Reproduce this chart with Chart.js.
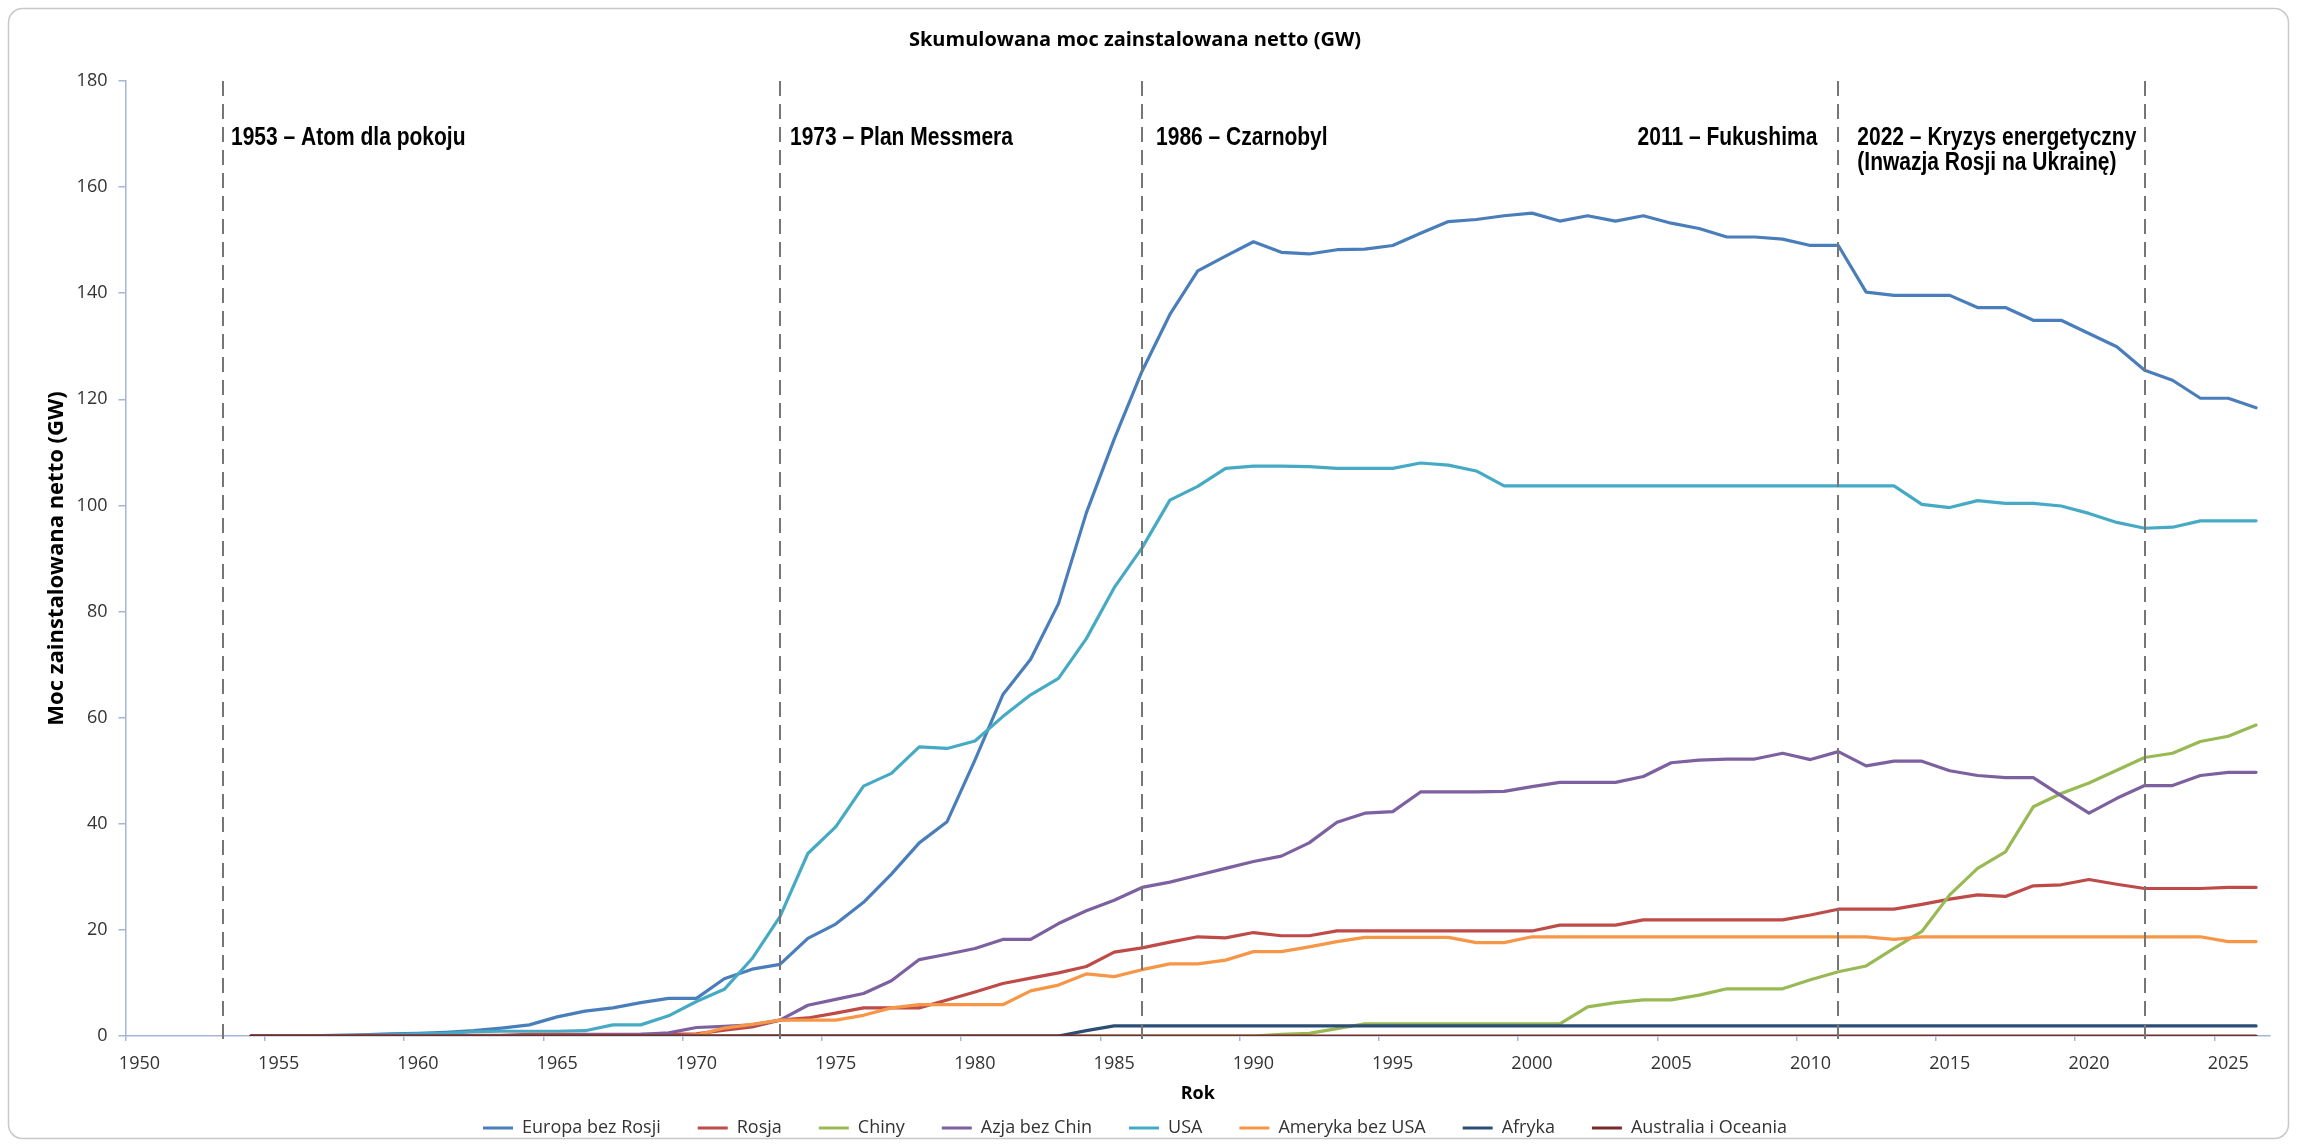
<!DOCTYPE html>
<html>
<head>
<meta charset="utf-8">
<script src="https://cdn.jsdelivr.net/npm/chart.js@4.4.1/dist/chart.umd.min.js"></script>
<style>
html,body{margin:0;padding:0;background:#fff;overflow:hidden}
canvas{display:block}
</style>
</head>
<body>
<canvas id="c" width="2297" height="1147"></canvas>
<script>
// ---- categories ----
const years = [1950,1951,1952,1953,1954,1955,1956,1957,1958,1959,
1960,1961,1962,1963,1964,1965,1966,1967,1968,1969,
1970,1971,1972,1973,1974,1975,1976,1977,1978,1979,
1980,1981,1982,1983,1984,1985,1986,1987,1988,1989,
1990,1991,1992,1993,1994,1995,1996,1997,1998,1999,
2000,2001,2002,2003,2004,2005,2006,2007,2008,2009,
2010,2011,2012,2013,2014,2015,2016,2017,2018,2019,
2020,2021,2022,2023,2024,2025,2026];

// ---- series (GW), 1950..2026 ----
const europe = [null,null,null,null,
0,0,0.05,0.1,0.2,0.4,0.5,0.7,1.0,1.5,
2.1,3.6,4.7,5.3,6.3,7.1,7.1,10.8,12.6,13.5,
18.4,21.1,25.2,30.5,36.4,40.4,52.0,64.3,71.0,81.5,
98.6,112.5,125.3,136.0,144.2,147.0,149.7,147.7,147.4,148.2,
148.3,149.0,151.3,153.5,153.9,154.6,155.1,153.6,154.6,153.6,
154.6,153.2,152.2,150.6,150.6,150.2,149.0,149.0,140.2,139.6,
139.6,139.6,137.3,137.3,134.9,134.9,132.4,129.9,125.5,123.6,
120.2,120.2,118.4];

const russia = [null,null,null,null,
0,0,0,0,0.1,0.1,0.1,0.1,0.1,0.1,
0.3,0.3,0.3,0.3,0.3,0.3,0.4,1.1,1.7,3.0,
3.4,4.3,5.3,5.3,5.3,6.8,8.3,9.9,10.9,11.9,
13.1,15.8,16.6,17.7,18.7,18.5,19.5,18.9,18.9,19.8,
19.8,19.8,19.8,19.8,19.8,19.8,19.8,20.9,20.9,20.9,
21.9,21.9,21.9,21.9,21.9,21.9,22.8,23.9,23.9,23.9,
24.8,25.8,26.6,26.3,28.3,28.5,29.5,28.6,27.8,27.8,
27.8,28.0,28.0];

const china = [null,null,null,null,
0,0,0,0,0,0,0,0,0,0,
0,0,0,0,0,0,0,0,0,0,
0,0,0,0,0,0,0,0,0,0,
0,0,0,0,0,0,0,0.3,0.5,1.4,
2.3,2.3,2.3,2.3,2.3,2.3,2.3,2.3,5.5,6.3,
6.8,6.8,7.7,8.9,8.9,8.9,10.6,12.1,13.2,16.5,
19.7,26.6,31.6,34.7,43.2,45.7,47.7,50.1,52.5,53.3,
55.5,56.5,58.6];

const asia = [null,null,null,null,
0,0,0,0,0,0,0,0,0,0,
0,0,0.2,0.2,0.3,0.6,1.6,1.8,2.1,3.0,
5.8,6.9,8.0,10.4,14.4,15.4,16.5,18.2,18.2,21.2,
23.6,25.6,28.0,29.0,30.3,31.6,32.9,33.9,36.4,40.3,
42.0,42.3,46.0,46.0,46.0,46.1,47.0,47.8,47.8,47.8,
48.9,51.5,52.0,52.2,52.2,53.3,52.1,53.6,50.9,51.8,
51.8,50.0,49.1,48.7,48.7,45.3,42.0,44.8,47.2,47.2,
49.1,49.7,49.7];

const usa = [null,null,null,null,
0,0,0,0.06,0.1,0.2,0.4,0.5,0.8,0.9,
0.9,0.9,1.0,2.1,2.1,3.8,6.5,8.8,14.6,22.5,
34.4,39.4,47.1,49.5,54.5,54.2,55.6,60.2,64.3,67.4,
74.9,84.5,92.0,101.0,103.6,107.0,107.4,107.4,107.3,107.0,
107.0,107.0,108.0,107.6,106.5,103.7,103.7,103.7,103.7,103.7,
103.7,103.7,103.7,103.7,103.7,103.7,103.7,103.7,103.7,103.7,
100.2,99.6,100.9,100.4,100.4,99.9,98.5,96.8,95.7,95.9,
97.1,97.1,97.1];

const americas = [null,null,null,null,
0,0,0,0,0,0,0,0,0,0,
0,0,0,0,0,0,0.2,1.5,2.2,3.0,
3.0,3.0,3.9,5.3,5.9,5.9,5.9,5.9,8.5,9.6,
11.7,11.2,12.5,13.6,13.6,14.3,15.9,15.9,16.8,17.8,
18.6,18.6,18.6,18.6,17.6,17.6,18.7,18.7,18.7,18.7,
18.7,18.7,18.7,18.7,18.7,18.7,18.7,18.7,18.7,18.2,
18.7,18.7,18.7,18.7,18.7,18.7,18.7,18.7,18.7,18.7,
18.7,17.8,17.8];

const africa = [null,null,null,null,
0,0,0,0,0,0,0,0,0,0,
0,0,0,0,0,0,0,0,0,0,
0,0,0,0,0,0,0,0,0,0,
1.0,1.9,1.9,1.9,1.9,1.9,1.9,1.9,1.9,1.9,
1.9,1.9,1.9,1.9,1.9,1.9,1.9,1.9,1.9,1.9,
1.9,1.9,1.9,1.9,1.9,1.9,1.9,1.9,1.9,1.9,
1.9,1.9,1.9,1.9,1.9,1.9,1.9,1.9,1.9,1.9,
1.9,1.9,1.9];

const australia = [null,null,null,null,
0,0,0,0,0,0,0,0,0,0,
0,0,0,0,0,0,0,0,0,0,
0,0,0,0,0,0,0,0,0,0,
0,0,0,0,0,0,0,0,0,0,
0,0,0,0,0,0,0,0,0,0,
0,0,0,0,0,0,0,0,0,0,
0,0,0,0,0,0,0,0,0,0,
0,0,0];

const seriesNames = ['Europa bez Rosji','Rosja','Chiny','Azja bez Chin','USA','Ameryka bez USA','Afryka','Australia i Oceania'];
const seriesValues = [europe, russia, china, asia, usa, americas, africa, australia];
const seriesColors = ['#4a7ebb','#be4b48','#98b954','#7d60a0','#46aac5','#f79646','#2c4d75','#772c2a'];

// ---- event markers ----
const eventYears = [1953, 1973, 1986, 2011, 2022];
const eventTexts = [
  ['1953 – Atom dla pokoju'],
  ['1973 – Plan Messmera'],
  ['1986 – Czarnobyl'],
  ['2011 – Fukushima'],
  ['2022 – Kryzys energetyczny', '(Inwazja Rosji na Ukrainę)']
];
const yTicks = [0,20,40,60,80,100,120,140,160,180];

// label placement (style): anchor year, text alignment, pixel offset
const eventLabelPlacement = [[1953,'left',8],[1973,'left',10],[1986,'left',14],[2011,'right',-21],[2011,'left',19]];

const axisColor = '#a3b7d4';
const textColor = '#333333';
const tickFont = {family: '"Open Sans", "DejaVu Sans", sans-serif', size: 18};

const framePlugin = {
  id: 'frame',
  beforeDraw(chart) {
    const c = chart.ctx;
    c.save();
    c.fillStyle = '#ffffff';
    c.fillRect(0, 0, chart.width, chart.height);
    c.strokeStyle = '#c8c8c8';
    c.lineWidth = 1.5;
    c.beginPath();
    c.roundRect(8.5, 8.5, 2280, 1130, 14);
    c.stroke();
    c.restore();
  }
};

const eventsPlugin = {
  id: 'events',
  afterDatasetsDraw(chart) {
    const {ctx, chartArea, scales} = chart;
    const x = scales.x;
    ctx.save();
    ctx.strokeStyle = '#767676';
    ctx.lineWidth = 2;
    ctx.setLineDash([15, 8]);
    eventYears.forEach(yr => {
      const px = Math.round(x.getPixelForValue(years.indexOf(yr)));
      ctx.beginPath();
      ctx.moveTo(px, chartArea.top);
      ctx.lineTo(px, chartArea.bottom + 5);
      ctx.stroke();
    });
    ctx.setLineDash([]);
    ctx.fillStyle = '#000000';
    ctx.font = 'bold 25px "Liberation Sans", Arial, sans-serif';
    ctx.textBaseline = 'middle';
    const sx = 0.84; // condensed look
    eventTexts.forEach((lines, i) => {
      const [yr, align, dx] = eventLabelPlacement[i];
      const px = x.getPixelForValue(years.indexOf(yr)) + dx;
      ctx.textAlign = align;
      lines.forEach((t, j) => {
        ctx.save();
        ctx.translate(px, chartArea.top + 57 + j * 25);
        ctx.scale(sx, 1);
        ctx.fillText(t, 0, 0);
        ctx.restore();
      });
    });
    ctx.restore();
  }
};

const datasets = seriesNames.map((name, i) => ({
  label: name,
  data: seriesValues[i],
  borderColor: seriesColors[i],
  backgroundColor: seriesColors[i],
  borderWidth: 3.2,
  pointRadius: 0,
  tension: 0,
  borderJoinStyle: 'round',
  borderCapStyle: 'round',
  fill: false,
  order: seriesNames.length - i
}));

new Chart(document.getElementById('c').getContext('2d'), {
  type: 'line',
  data: {labels: years, datasets},
  plugins: [framePlugin, eventsPlugin],
  options: {
    responsive: false,
    animation: false,
    devicePixelRatio: 1,
    layout: {padding: {left: 0, right: 27, top: 0, bottom: 0}},
    plugins: {
      title: {
        display: true,
        text: 'Skumulowana moc zainstalowana netto (GW)',
        color: '#000000',
        font: {family: '"Open Sans", sans-serif', size: 20, weight: 'bold'},
        padding: {top: 28, bottom: 29}
      },
      legend: {
        position: 'bottom',
        labels: {
          boxWidth: 30,
          boxHeight: 3,
          padding: 37,
          color: textColor,
          font: tickFont,
          sort: (a, b) => a.datasetIndex - b.datasetIndex,
          generateLabels(chart) {
            return chart.data.datasets.map((ds, i) => ({
              text: ds.label,
              fillStyle: ds.borderColor,
              strokeStyle: ds.borderColor,
              lineWidth: 0,
              hidden: false,
              datasetIndex: i,
              fontColor: textColor
            }));
          }
        }
      },
      tooltip: {enabled: false}
    },
    scales: {
      x: {
        type: 'category',
        offset: true,
        grid: {
          offset: true,
          drawOnChartArea: false,
          drawTicks: true,
          tickLength: 5,
          lineWidth: 1.5,
          color: (ctx) => (ctx.index !== undefined && ctx.index % 5 === 0) ? axisColor : 'rgba(0,0,0,0)'
        },
        border: {color: axisColor, width: 1.5},
        ticks: {
          autoSkip: false,
          maxRotation: 0,
          minRotation: 0,
          padding: 12,
          color: textColor,
          font: tickFont,
          callback: function(v, i) { return years[i] % 5 === 0 ? String(years[i]) : ''; }
        },
        title: {
          display: true,
          text: 'Rok',
          color: '#000000',
          font: {family: '"Open Sans", sans-serif', size: 18, weight: 'bold'},
          padding: {top: 0, bottom: -23}
        },
        afterFit(scale) { scale.height = 46; }
      },
      y: {
        min: 0,
        max: 180,
        afterBuildTicks(scale) { scale.ticks = yTicks.map(v => ({value: v})); },
        grid: {drawOnChartArea: false, drawTicks: true, tickLength: 7, color: axisColor, lineWidth: 1.5},
        border: {color: axisColor, width: 1.5},
        ticks: {padding: 11, color: textColor, font: tickFont},
        title: {
          display: true,
          text: 'Moc zainstalowana netto (GW)',
          color: '#000000',
          font: {family: '"Open Sans", sans-serif', size: 22, weight: 'bold'},
          padding: {top: 44, bottom: 0}
        },
        afterFit(scale) { scale.width = 125.5; }
      }
    }
  }
});
</script>
</body>
</html>
